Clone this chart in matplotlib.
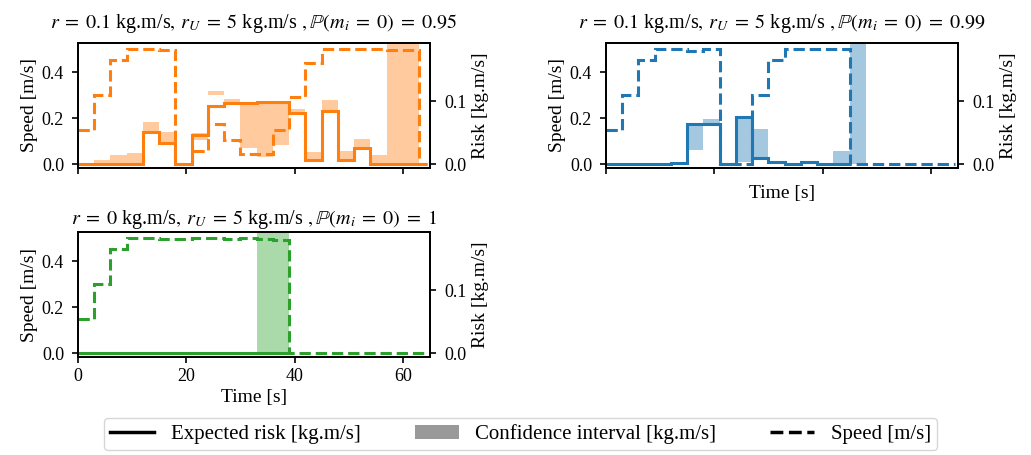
import matplotlib
matplotlib.use("Agg")
import matplotlib.pyplot as plt
from matplotlib.lines import Line2D
from matplotlib.patches import Patch

plt.rcParams['font.family'] = ['Liberation Serif', 'DejaVu Serif']
plt.rcParams['mathtext.fontset'] = 'stix'
plt.rcParams['font.size'] = 14

# Time step edges [s] (one value per interval)
edges = [0, 3, 6, 9, 12, 15, 18, 21, 24, 27, 30, 33, 36, 39, 42, 45, 48, 51, 54, 57, 60, 63, 64.4]

# r = 0.1, P = 0.95 (orange)
speed_a = [0.15, 0.30, 0.45, 0.50, 0.50, 0.497, 0.0, 0.056, 0.172, 0.103, 0.042,
           0.042, 0.15, 0.29, 0.44, 0.498, 0.498, 0.498, 0.498, 0.495, 0.495, 0.0]
risk_a = [0.0, 0.0, 0.0, 0.0, 0.0507, 0.034, 0.0, 0.0456, 0.092, 0.0967, 0.0967,
          0.0986, 0.0986, 0.0814, 0.0066, 0.084, 0.0066, 0.026, 0.0, 0.0, 0.0, 0.0]
ci_lo_a = [0.0, 0.0, 0.0, 0.0, 0.047, 0.033, 0.0, 0.038, 0.109, 0.097, 0.026,
           0.012, 0.031, 0.080, 0.0055, 0.086, 0.0055, 0.026, 0.0, 0.0, 0.0, 0.0]
ci_hi_a = [0.0, 0.006, 0.014, 0.017, 0.066, 0.051, 0.0, 0.049, 0.116, 0.103, 0.097,
           0.099, 0.099, 0.088, 0.019, 0.101, 0.020, 0.040, 0.015, 0.25, 0.25, 0.0]

# r = 0.1, P = 0.99 (blue)
speed_b = [0.15, 0.30, 0.45, 0.50, 0.50, 0.493, 0.50, 0.0, 0.0, 0.30, 0.45,
           0.50, 0.50, 0.50, 0.50, 0.0, 0.0, 0.0, 0.0, 0.0, 0.0, 0.0]
risk_b = [0.0, 0.0, 0.0, 0.0, 0.002, 0.064, 0.064, 0.0, 0.0745, 0.0098, 0.0033,
          0.0, 0.0035, 0.0, 0.0, None, None, None, None, None, None, None]
ci_lo_b = [0.0, 0.0, 0.0, 0.0, 0.0, 0.022, 0.064, 0.0, 0.0035, 0.0075, 0.0,
           0.0, 0.0, 0.0, 0.0, 0.0, 0.0, 0.0, 0.0, 0.0, 0.0, 0.0]
ci_hi_b = [0.0, 0.0, 0.0, 0.0, 0.0, 0.064, 0.071, 0.0, 0.071, 0.055, 0.0,
           0.0, 0.0, 0.0, 0.0205, 0.25, 0.0, 0.0, 0.0, 0.0, 0.0, 0.0]

# r = 0, P = 1 (green)
speed_c = [0.15, 0.30, 0.45, 0.50, 0.50, 0.495, 0.495, 0.50, 0.50, 0.495, 0.50,
           0.495, 0.49, 0.0, 0.0, 0.0, 0.0, 0.0, 0.0, 0.0, 0.0, 0.0]
risk_c = [0.0, 0.0, 0.0, 0.0, 0.0, 0.0, 0.0, 0.0, 0.0, 0.0, 0.0,
          0.0, 0.0, None, None, None, None, None, None, None, None, None]
ci_lo_c = [0.0] * 22
ci_hi_c = [0.0, 0.0, 0.0, 0.0, 0.0, 0.0, 0.0, 0.0, 0.0, 0.0, 0.0,
           0.25, 0.25, 0.0, 0.0, 0.0, 0.0, 0.0, 0.0, 0.0, 0.0, 0.0]

titles = [r'$r\;=\;0.1$ kg.m/s$,\,r_U\;=\;5$ kg.m/s $,\mathbb{P}(m_i\;=\;0)\;=\;0.95$',
          r'$r\;=\;0.1$ kg.m/s$,\,r_U\;=\;5$ kg.m/s $,\mathbb{P}(m_i\;=\;0)\;=\;0.99$',
          r'$r\;=\;0$ kg.m/s$,\,r_U\;=\;5$ kg.m/s $,\mathbb{P}(m_i\;=\;0)\;=\;1$']
title_pads = [11, 11, 6]
colors = ['#ff7f0e', '#1f77b4', '#2ca02c']


def trim(vals):
    # keep the values up to the last defined one, with the matching edges
    n = len([v for v in vals if v is not None])
    return vals[:n], edges[:n + 1]


fig = plt.figure(figsize=(10.31, 4.55), dpi=100)
W, H = 1031, 455
boxes = [(78, 43), (606, 43), (78, 232)]
data = [(speed_a, risk_a, ci_lo_a, ci_hi_a),
        (speed_b, risk_b, ci_lo_b, ci_hi_b),
        (speed_c, risk_c, ci_lo_c, ci_hi_c)]

for k, ((x0, y0), (speed, risk, lo, hi)) in enumerate(zip(boxes, data)):
    ax = fig.add_axes([x0 / W, 1 - (y0 + 125) / H, 352 / W, 125 / H])
    ax2 = ax.twinx()
    ax.set_zorder(ax2.get_zorder() + 1)
    ax.patch.set_visible(False)
    c = colors[k]

    ax2.stairs(hi, edges, baseline=lo, fill=True, color=c, alpha=0.4, lw=0)
    rv, re = trim(risk)
    ax2.stairs(rv, re, baseline=None, color=c, lw=2.2)
    ax.stairs(speed, edges, baseline=None, color=c, lw=2.2, ls='--')

    ax.set_xlim(0, 65)
    ax.set_ylim(-0.017, 0.526)
    ax2.set_ylim(-0.0062, 0.192)
    ax.set_xticks([0, 20, 40, 60])
    ax.set_yticks([0.0, 0.2, 0.4])
    ax2.set_yticks([0.0, 0.1])
    ax.set_ylabel('Speed [m/s]', fontsize=14, labelpad=3)
    ax2.set_ylabel('Risk [kg.m/s]', fontsize=14, labelpad=4)
    ax.set_title(titles[k], fontsize=14.5, pad=title_pads[k])
    for a in (ax, ax2):
        for s in a.spines.values():
            s.set_linewidth(1.3)
        a.tick_params(width=1.2, length=4.5, labelsize=13)
        a.tick_params(axis='y', pad=5.5)
    if k == 2:
        ax.set_xlabel('Time [s]', fontsize=14, labelpad=3)
    else:
        ax.set_xticklabels([])
    if k == 1:
        ax.set_xlabel('Time [s]', fontsize=14)

handles = [Line2D([], [], color='black', lw=2.5),
           Patch(facecolor='#999999'),
           Line2D([], [], color='black', lw=2.5, ls='--')]
labels = ['Expected risk [kg.m/s]', 'Confidence interval [kg.m/s]', 'Speed [m/s]']
fig.legend(handles, labels, loc='lower center', bbox_to_anchor=(0.505, -0.013),
           ncol=3, handlelength=2.1, handletextpad=0.8, columnspacing=2.6,
           fontsize=15, frameon=True, edgecolor='#cccccc', borderpad=0.3)

fig.savefig('out.png', dpi=100)
